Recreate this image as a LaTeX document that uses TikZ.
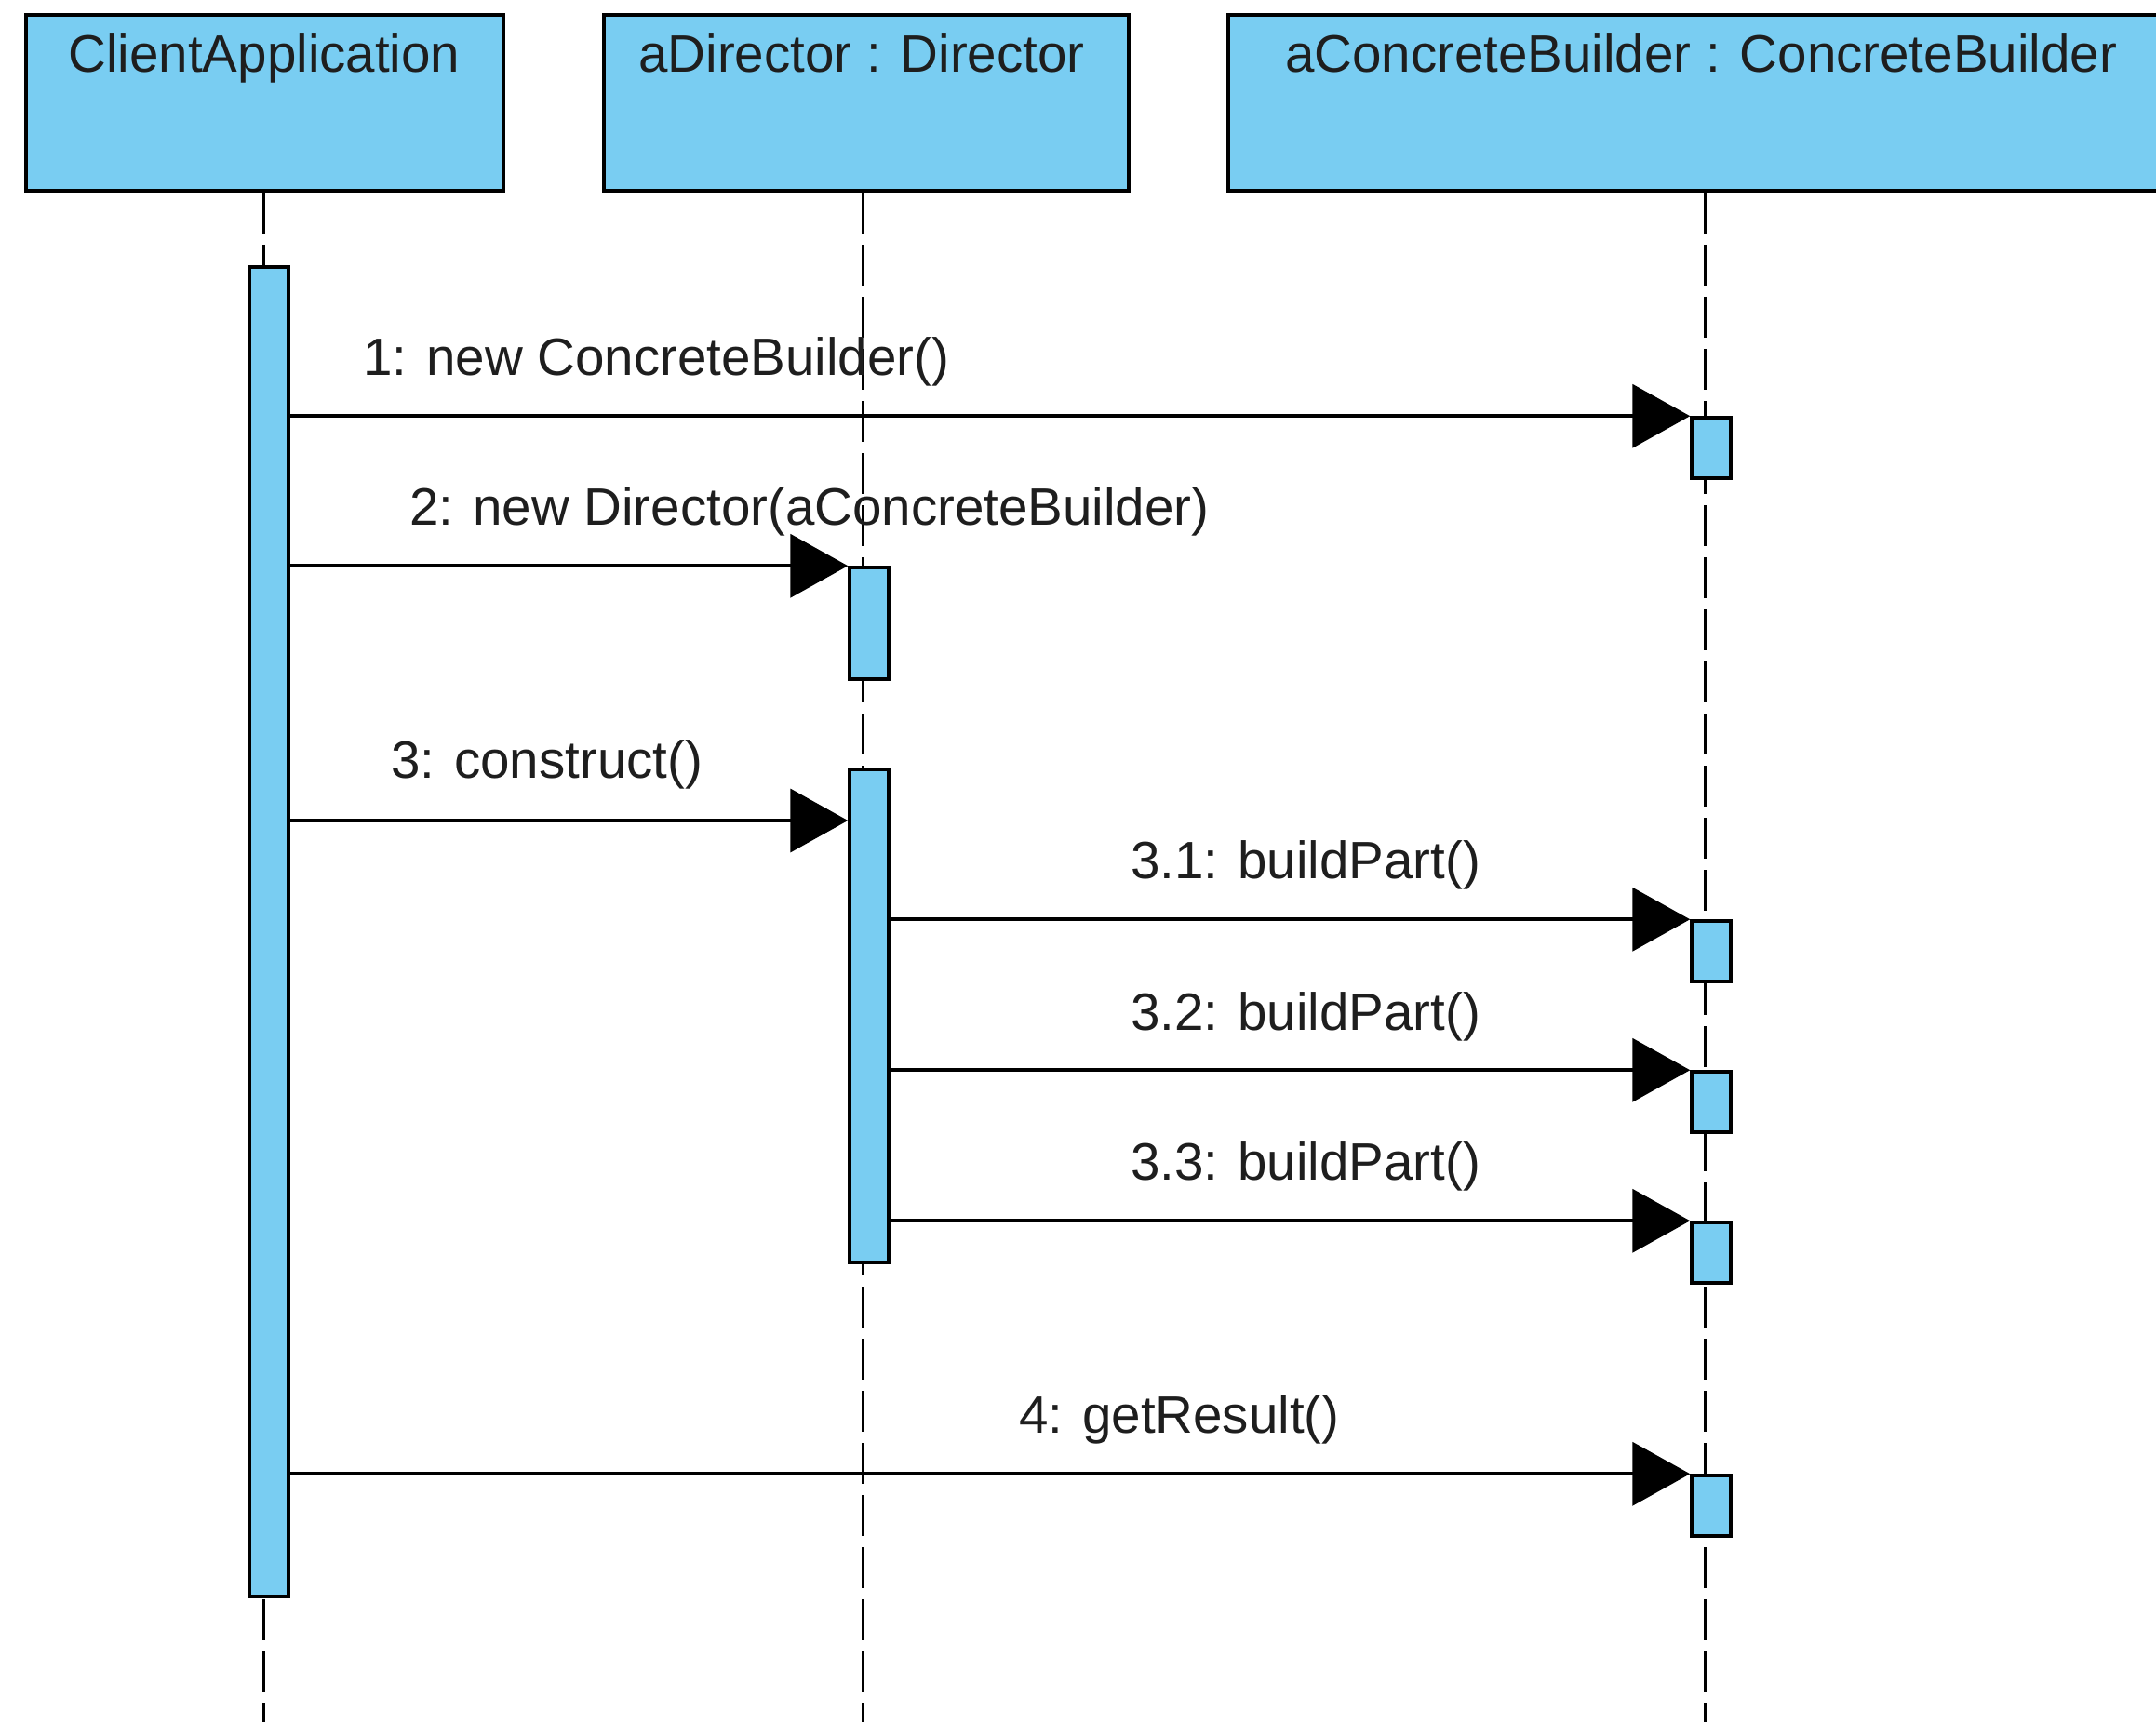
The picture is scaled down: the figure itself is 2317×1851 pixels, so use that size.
\documentclass[tikz,border=0pt]{standalone}
\usepackage{fontspec}
\setmainfont{Liberation Sans}
\usetikzlibrary{arrows.meta}
\definecolor{objfill}{RGB}{121,205,242}
\definecolor{inkgray}{RGB}{30,30,30}
\begin{document}
\begin{tikzpicture}[x=1pt,y=-1pt,
  objbox/.style={draw=black, line width=4pt, fill=objfill, rectangle,
    minimum height=189pt, inner sep=0pt},
  actbar/.style={draw=black, line width=3.5pt, fill=objfill, rectangle,
    minimum width=42pt, inner sep=0pt},
  lifeline/.style={draw=black, line width=3pt, dash pattern=on 44pt off 12pt},
  msg/.style={draw=black, line width=4pt, -{Triangle[length=62pt,width=68pt]}},
  txt/.style={inner sep=0pt, text=inkgray, font=\fontsize{56.5}{68}\selectfont},
  msglabel/.style={txt, anchor=base west},
  title/.style={txt, anchor=base}]
\clip (0,0) rectangle (2317,1851);
\fill[white] (0,0) rectangle (2317,1851);

% object heads
\node[objbox, minimum width=513pt]  (box1) at (284.5,110.5) {};
\node[objbox, minimum width=564pt]  (box2) at (931,110.5) {};
\node[objbox, minimum width=1024pt] (box3) at (1832,110.5) {};
\node[title] (t1) at (284,78) {ClientApplication};
\node[title] (t2) at (926,78) {aDirector : Director};
\node[title] (t3) at (1828,78) {aConcreteBuilder : ConcreteBuilder};

% lifelines
\coordinate (e1) at (283,1860);
\coordinate (e2) at (927,1860);
\coordinate (e3) at (1832,1860);
\draw[lifeline] (box1.south -| e1) -- (e1);
\draw[lifeline] (box2.south -| e2) -- (e2);
\draw[lifeline] (box3.south -| e3) -- (e3);

% activation bars
\node[actbar, minimum height=1429pt] (cbar) at (289,1001.5) {};
\node[actbar, minimum height=120pt]  (d1)   at (934,670) {};
\node[actbar, minimum height=530pt]  (d2)   at (934,1092) {};
\node[actbar, minimum height=65pt]   (b1)   at (1839,481.5) {};
\node[actbar, minimum height=65pt]   (b31)  at (1839,1022.5) {};
\node[actbar, minimum height=65pt]   (b32)  at (1839,1184.5) {};
\node[actbar, minimum height=65pt]   (b33)  at (1839,1346.5) {};
\node[actbar, minimum height=65pt]   (b4)   at (1839,1618.5) {};

% messages
\draw[msg] (b1.north west -| cbar.east) -- (b1.north west);
\draw[msg] (d1.north west -| cbar.east) -- (d1.north west);
\coordinate (c3) at (913,882);
\draw[msg] (c3 -| cbar.east) -- (c3 -| d2.west);
\draw[msg] (b31.north west -| d2.east) -- (b31.north west);
\draw[msg] (b32.north west -| d2.east) -- (b32.north west);
\draw[msg] (b33.north west -| d2.east) -- (b33.north west);
\draw[msg] (b4.north west -| cbar.east) -- (b4.north west);

% message labels
\node[msglabel] (l1)  at (390,403)   {1: new ConcreteBuilder()};
\node[msglabel] (l2)  at (440,564)   {2: new Director(aConcreteBuilder)};
\node[msglabel] (l3)  at (420,836)   {3: construct()};
\node[msglabel] (l31) at (1215,944)  {3.1: buildPart()};
\node[msglabel] (l32) at (1215,1107) {3.2: buildPart()};
\node[msglabel] (l33) at (1215,1268) {3.3: buildPart()};
\node[msglabel] (l4)  at (1095,1540) {4: getResult()};
\end{tikzpicture}
\end{document}
